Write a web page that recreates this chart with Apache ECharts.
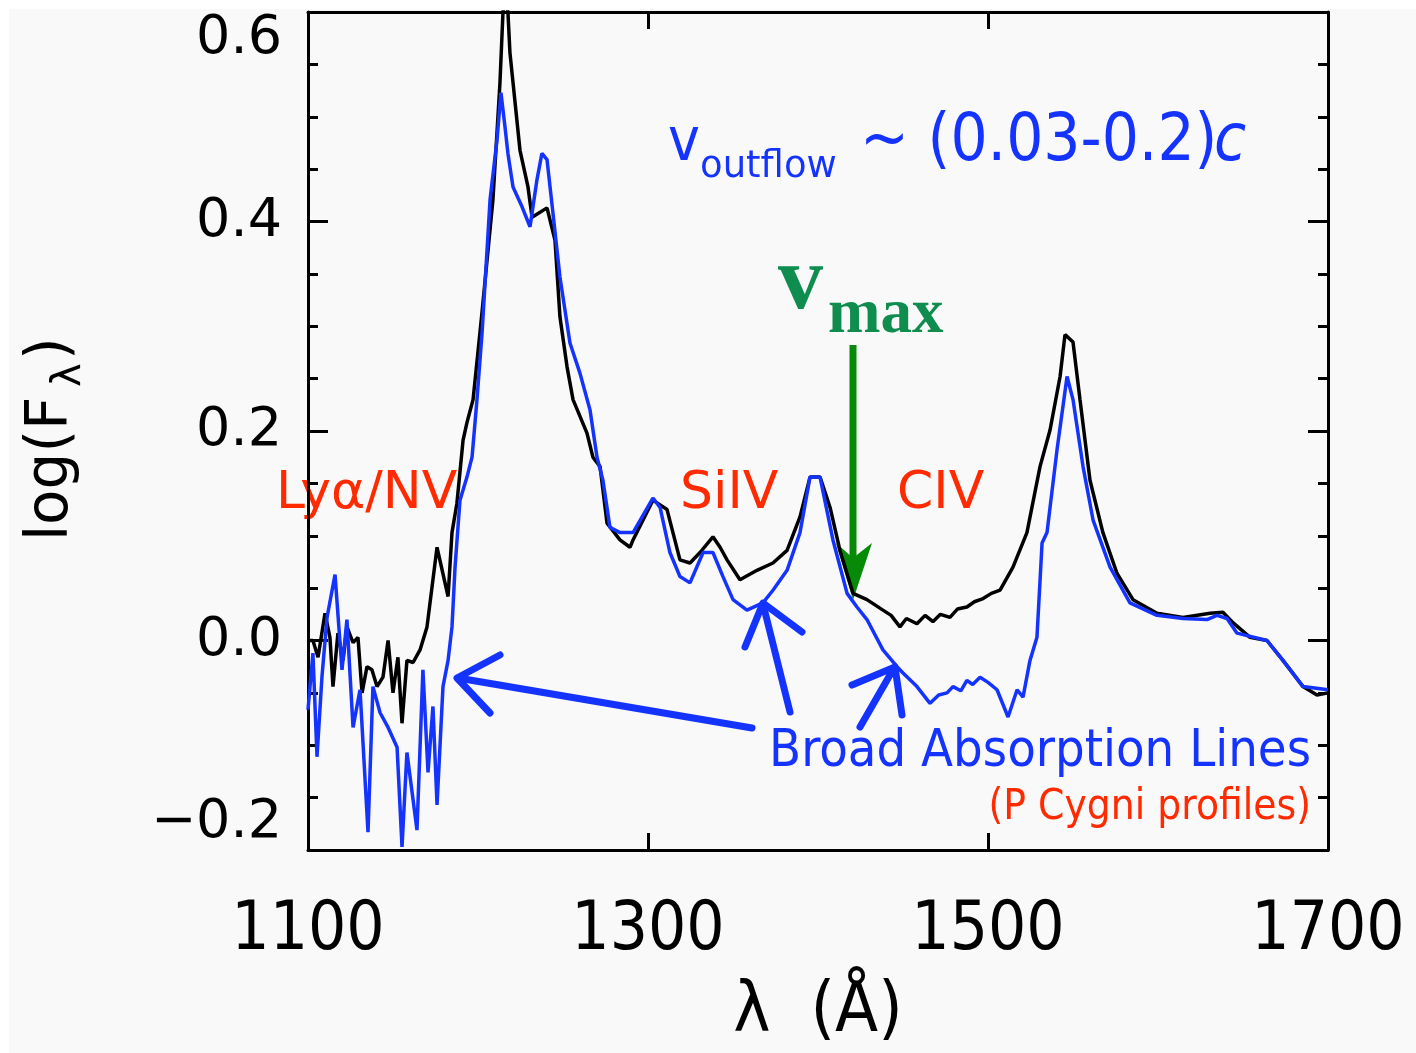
<!DOCTYPE html>
<html><head><meta charset="utf-8">
<script src="https://cdn.jsdelivr.net/npm/echarts@6/dist/echarts.min.js"></script>
<style>html,body{margin:0;padding:0;background:#fff}#c{width:1416px;height:1053px}</style>
</head><body><div id="c"></div>
<script>
// Non-BAL composite (black)
const blackWave = [1100,1102.9,1105.9,1110.0,1112.9,1114.7,1117.6,1120.6,1122.9,1126.5,1129.4,1131.8,1134.7,1137.6,1140.6,1144.1,1147.1,1150.0,1152.9,1155.3,1158.2,1161.8,1165.9,1170.0,1175.9,1182.4,1184.7,1187.6,1191.2,1193.5,1197.1,1202.4,1208.8,1212.9,1214.7,1215.9,1217.6,1218.8,1224.7,1229.4,1231.8,1240.6,1245.3,1248.2,1252.4,1255.9,1264.1,1267.6,1271.8,1275.9,1283.5,1289.4,1291.2,1302.9,1311.2,1318.8,1324.7,1330.6,1338.2,1342.4,1346.5,1354.1,1364.1,1373.5,1381.8,1389.4,1395.3,1399.4,1401.2,1407.1,1412.9,1420.6,1428.8,1438.2,1443.0,1448.2,1452.0,1458.2,1463.0,1467.6,1472.0,1477.6,1482.0,1487.6,1492.0,1497.1,1502.0,1507.1,1514.7,1522.9,1530.6,1536.5,1542.4,1545.3,1550.0,1554.1,1560.0,1567.6,1575.9,1585.3,1599.4,1614.7,1630.6,1638.2,1644.1,1654.1,1664.1,1673.5,1685.3,1693.5,1700];
const blackFlux = [0.000,0.000,-0.016,0.026,0.003,-0.044,0.007,-0.019,0.013,-0.002,0.003,-0.050,-0.025,-0.028,-0.044,-0.035,0.000,-0.050,-0.016,-0.079,-0.019,-0.021,-0.009,0.013,0.089,0.042,0.103,0.131,0.191,0.208,0.230,0.314,0.421,0.532,0.600,0.615,0.600,0.561,0.468,0.433,0.404,0.413,0.382,0.309,0.261,0.230,0.198,0.175,0.166,0.112,0.096,0.089,0.096,0.134,0.125,0.077,0.074,0.084,0.099,0.089,0.077,0.058,0.067,0.074,0.086,0.118,0.156,0.156,0.156,0.127,0.086,0.045,0.039,0.029,0.024,0.013,0.021,0.016,0.024,0.018,0.025,0.022,0.030,0.032,0.037,0.040,0.045,0.048,0.070,0.103,0.166,0.201,0.252,0.292,0.285,0.230,0.153,0.103,0.064,0.039,0.026,0.022,0.026,0.027,0.017,0.003,0.000,-0.019,-0.044,-0.052,-0.050];
// BAL composite (blue)
const blueWave = [1100,1102.9,1105.3,1108.2,1111.2,1115.9,1120.0,1122.9,1126.5,1130.6,1135.3,1138.2,1142.4,1147.1,1152.4,1155.3,1158.2,1164.1,1167.6,1170.6,1173.5,1175.9,1179.4,1182.4,1184.7,1186.5,1189.4,1193.5,1196.5,1199.4,1202.4,1207.1,1211.2,1213.5,1215.9,1217.6,1220.6,1225.9,1230.6,1234.7,1237.6,1240.6,1244.1,1248.2,1254.1,1260.0,1265.9,1270.0,1273.5,1277.6,1283.5,1291.2,1302.9,1307.1,1312.9,1318.8,1324.7,1332.4,1338.2,1344.1,1350.0,1358.2,1367.6,1373.5,1381.8,1389.4,1395.3,1401.2,1408.8,1417.1,1422.9,1428.8,1438.2,1446.5,1450.0,1458.2,1465.9,1471.0,1475.9,1479.4,1484.0,1487.6,1491.0,1495.3,1500.0,1505.3,1511.8,1517.1,1520.6,1524.7,1528.8,1531.8,1534.7,1540.6,1546.5,1550.0,1555.9,1561.8,1571.8,1583.5,1599.4,1614.7,1628.8,1634.7,1640.6,1646.5,1664.1,1673.5,1685.3,1700];
const blueFlux = [-0.066,-0.012,-0.111,-0.035,0.022,0.063,-0.028,0.020,-0.083,-0.047,-0.183,-0.044,-0.069,-0.083,-0.102,-0.197,-0.107,-0.181,-0.028,-0.126,-0.063,-0.157,-0.044,-0.019,0.013,0.070,0.134,0.156,0.175,0.230,0.294,0.421,0.478,0.523,0.490,0.465,0.433,0.414,0.395,0.440,0.465,0.459,0.408,0.347,0.284,0.255,0.220,0.175,0.153,0.108,0.103,0.103,0.136,0.127,0.084,0.061,0.055,0.084,0.084,0.061,0.039,0.029,0.036,0.048,0.067,0.103,0.156,0.156,0.096,0.045,0.032,0.020,-0.009,-0.025,-0.031,-0.044,-0.060,-0.052,-0.050,-0.044,-0.048,-0.038,-0.042,-0.035,-0.040,-0.047,-0.073,-0.047,-0.054,-0.019,0.003,0.093,0.103,0.182,0.252,0.230,0.166,0.115,0.070,0.036,0.024,0.021,0.020,0.024,0.021,0.007,0.000,-0.019,-0.044,-0.047];
const xTickLabels = [1100,1300,1500,1700];
const yTickLabels = [-0.2,0.0,0.2,0.4,0.6];

const zip = (a,b) => a.map((v,i)=>[v,b[i]]);
const BLUE = '#1433ff', RED = '#ff2a00', GREEN_T = '#0f8d4f', GREEN_A = '#078a07';
const fmtY = v => (v < 0 ? '\u2212' : '') + Math.abs(v).toFixed(1);

const axisLine = {show:true, onZero:false, lineStyle:{color:'#000', width:3}};
const xBase = {type:'value', min:xTickLabels[0], max:xTickLabels[xTickLabels.length-1], interval:200, splitLine:{show:false}, axisLine,
  axisTick:{show:true, inside:true, length:17, lineStyle:{color:'#000', width:3}}};
const yBase = {type:'value', min:yTickLabels[0], max:yTickLabels[yTickLabels.length-1], interval:0.2, splitLine:{show:false}, axisLine,
  axisTick:{show:true, inside:true, length:20, lineStyle:{color:'#000', width:3}},
  minorTick:{show:true, splitNumber:4, length:10, lineStyle:{color:'#000', width:3}}, minorSplitLine:{show:false}};

const chart = echarts.init(document.getElementById('c'), null, {renderer:'canvas'});
chart.setOption({
  animation:false,
  backgroundColor:'#ffffff',
  grid:{left:308, right:88, top:12, bottom:203, containLabel:false},
  xAxis:[
    Object.assign({}, xBase, {position:'bottom',
      axisLabel:{show:true, margin:48, fontFamily:'DejaVu Sans Condensed', fontSize:67, color:'#000', formatter:v=>String(v)},
      name:'λ  (Å)', nameLocation:'middle', nameGap:128,
      nameTextStyle:{fontFamily:'DejaVu Sans Condensed', fontSize:70, color:'#000'}}),
    Object.assign({}, xBase, {position:'top', axisLabel:{show:false}})
  ],
  yAxis:[
    Object.assign({}, yBase, {position:'left',
      axisLabel:{show:true, margin:26, fontFamily:'DejaVu Sans', fontSize:54, color:'#000', formatter:fmtY,
        verticalAlignMaxLabel:'top', verticalAlignMinLabel:'bottom'}}),
    Object.assign({}, yBase, {position:'right', axisLabel:{show:false}})
  ],
  graphic:[
    {type:'rect', z:-10, silent:true, shape:{x:9, y:9, width:1407, height:1044}, style:{fill:'#f9f9f9'}},
    // y-axis title, rotated
    {type:'group', x:52, y:433, rotation:Math.PI/2, children:[
      {type:'text', x:-108, y:0, style:{text:'log(F', font:'58px "DejaVu Sans"', fill:'#000', align:'left', verticalAlign:'middle'}},
      {type:'text', x:46, y:18, style:{text:'λ', font:'40px "DejaVu Sans"', fill:'#000', align:'left', verticalAlign:'middle'}},
      {type:'text', x:73, y:0, style:{text:')', font:'58px "DejaVu Sans"', fill:'#000', align:'left', verticalAlign:'middle'}}
    ]},
    // line labels
    {type:'text', x:276, y:494, style:{text:'Lyα/NV', font:'52px "DejaVu Sans"', fill:RED, align:'left', verticalAlign:'middle'}},
    {type:'text', x:680, y:494, style:{text:'SiIV', font:'52px "DejaVu Sans"', fill:RED, align:'left', verticalAlign:'middle'}},
    {type:'text', x:897, y:494, style:{text:'CIV', font:'52px "DejaVu Sans"', fill:RED, align:'left', verticalAlign:'middle'}},
    {type:'text', x:1311, y:752, style:{text:'Broad Absorption Lines', font:'52px "DejaVu Sans Condensed"', fill:BLUE, align:'right', verticalAlign:'middle'}},
    {type:'text', x:1311, y:808, style:{text:'(P Cygni profiles)', font:'42px "DejaVu Sans Condensed"', fill:RED, align:'right', verticalAlign:'middle'}},
    // v_outflow
    {type:'text', x:668, y:144, style:{text:'v', font:'60px "DejaVu Sans Condensed"', fill:BLUE, align:'left', verticalAlign:'middle'}},
    {type:'text', x:700, y:167, style:{text:'outflow', font:'37px "DejaVu Sans"', fill:BLUE, align:'left', verticalAlign:'middle'}},
    {type:'text', x:860, y:143, style:{text:'~ (0.03-0.2)', font:'65px "DejaVu Sans Condensed"', fill:BLUE, align:'left', verticalAlign:'middle'}},
    {type:'text', x:1214, y:143, style:{text:'c', font:'italic 65px "DejaVu Sans Condensed"', fill:BLUE, align:'left', verticalAlign:'middle'}},
    // v_max
    {type:'text', x:778, y:285, style:{text:'v', font:'bold 90px "Liberation Serif"', fill:GREEN_T, align:'left', verticalAlign:'middle'}},
    {type:'text', x:828, y:316, style:{text:'max', font:'bold 63px "Liberation Serif"', fill:GREEN_T, align:'left', verticalAlign:'middle'}},
    // green arrow
    {type:'polyline', shape:{points:[[853,345],[853,565]]}, style:{stroke:GREEN_A, lineWidth:7, fill:null}},
    {type:'polygon', shape:{points:[[853,600],[836,543],[853,558],[872,543]]}, style:{fill:GREEN_A}},
    // blue arrows
    {type:'polyline', shape:{points:[[752,728],[458,678]]}, style:{stroke:BLUE, lineWidth:7, lineCap:'round', fill:null}},
    {type:'polyline', shape:{points:[[500,655],[457,678],[490,713]]}, style:{stroke:BLUE, lineWidth:7, lineCap:'round', lineJoin:'round', fill:null}},
    {type:'polyline', shape:{points:[[790,712],[763,604]]}, style:{stroke:BLUE, lineWidth:7, lineCap:'round', fill:null}},
    {type:'polyline', shape:{points:[[745,647],[763,603],[802,632]]}, style:{stroke:BLUE, lineWidth:7, lineCap:'round', lineJoin:'round', fill:null}},
    {type:'polyline', shape:{points:[[860,727],[894,668]]}, style:{stroke:BLUE, lineWidth:7, lineCap:'round', fill:null}},
    {type:'polyline', shape:{points:[[852,685],[895,667],[902,715]]}, style:{stroke:BLUE, lineWidth:7, lineCap:'round', lineJoin:'round', fill:null}}
  ],
  series:[
    {type:'line', name:'non-BAL', data:zip(blackWave, blackFlux), showSymbol:false, symbol:'none', clip:true,
      lineStyle:{color:'#000', width:3.5}, z:2},
    {type:'line', name:'BAL', data:zip(blueWave, blueFlux), showSymbol:false, symbol:'none', clip:true,
      lineStyle:{color:BLUE, width:3.5}, z:3}
  ]
});
</script></body></html>
